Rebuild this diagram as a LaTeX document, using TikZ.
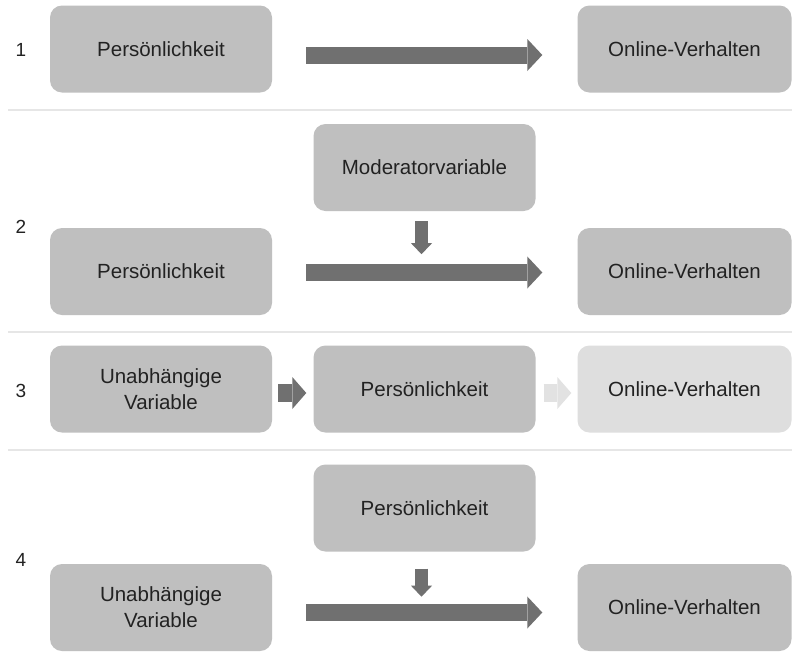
\documentclass[tikz,border=0pt]{standalone}
\usepackage{fontspec}
\setmainfont{Liberation Sans}
\usetikzlibrary{arrows.meta}
\definecolor{boxgray}{HTML}{BFBFBF}
\definecolor{boxlight}{HTML}{DEDEDE}
\definecolor{arrowgray}{HTML}{707070}
\definecolor{arrowlight}{HTML}{E2E2E2}
\definecolor{sepgray}{HTML}{E6E6E6}
\definecolor{txt}{HTML}{222222}
\begin{document}
\begin{tikzpicture}[x=1pt,y=-1pt,
  box/.style={rectangle, rounded corners=12pt, fill=boxgray, minimum width=222pt,
    minimum height=87pt, inner sep=0pt, text=txt,
    font=\fontsize{20.5}{26}\selectfont, align=center},
  obox/.style={box, minimum width=214pt},
  lightbox/.style={obox, fill=boxlight},
  num/.style={text=txt, font=\fontsize{19}{22}\selectfont, inner sep=0pt},
  bigarrow/.style={draw=arrowgray, line width=17pt,
    -{Triangle[length=15pt,width=32pt,line width=0pt]}},
  smallarrow/.style={draw=arrowgray, line width=18pt,
    -{Triangle[length=14pt,width=32pt,line width=0pt]}},
  lightarrow/.style={smallarrow, draw=arrowlight},
  downarrow/.style={draw=arrowgray, line width=13pt,
    -{Triangle[length=11pt,width=21pt,line width=0pt]}},
  sepline/.style={draw=sepgray, line width=2pt}
]
\useasboundingbox (0,0) rectangle (792,662);
\fill[white] (0,0) rectangle (792,662);

% separators
\draw[sepline] (8,110) -- (792,110);
\draw[sepline] (8,332) -- (792,332);
\draw[sepline] (8,450) -- (792,450);

% row 1
\node[num] (n1) at (21,50) {1};
\node[box] (p1) at (161,49) {Persönlichkeit};
\node[obox] (o1) at (684.5,49) {Online-Verhalten};
\draw[bigarrow, shorten <=34pt, shorten >=35pt] ([yshift=-6pt]p1.east) -- ([yshift=-6pt]o1.west);

% row 2
\node[num] (n2) at (21,227) {2};
\node[box] (m2) at (424.5,167.5) {Moderatorvariable};
\node[box] (p2) at (161,271.5) {Persönlichkeit};
\node[obox] (o2) at (684.5,271.5) {Online-Verhalten};
\draw[bigarrow, shorten <=34pt, shorten >=35pt] ([yshift=-1pt]p2.east) -- ([yshift=-1pt]o2.west);
\coordinate (d2) at ([xshift=-3pt,yshift=-43pt]m2.south);
\draw[downarrow, shorten <=10pt] ([xshift=-3pt]m2.south) -- (d2);

% row 3
\node[num] (n3) at (21,391) {3};
\node[box] (u3) at (161,389) {Unabhängige\\Variable};
\node[box] (p3) at (424.5,389) {Persönlichkeit};
\node[lightbox] (o3) at (684.5,389) {Online-Verhalten};
\draw[smallarrow, shorten <=6pt, shorten >=7pt] ([yshift=-4pt]u3.east) -- ([yshift=-4pt]p3.west);
\draw[lightarrow, shorten <=8pt, shorten >=6pt] ([yshift=-4pt]p3.east) -- ([yshift=-4pt]o3.west);

% row 4
\node[num] (n4) at (21,560) {4};
\node[box] (p4) at (424.5,508) {Persönlichkeit};
\node[box] (u4) at (161,607.5) {Unabhängige\\Variable};
\node[obox] (o4) at (684.5,607.5) {Online-Verhalten};
\draw[bigarrow, shorten <=34pt, shorten >=35pt] ([yshift=-5pt]u4.east) -- ([yshift=-5pt]o4.west);
\coordinate (d4) at ([xshift=-3pt,yshift=-45pt]p4.south);
\draw[downarrow, shorten <=17pt] ([xshift=-3pt]p4.south) -- (d4);
\end{tikzpicture}
\end{document}
